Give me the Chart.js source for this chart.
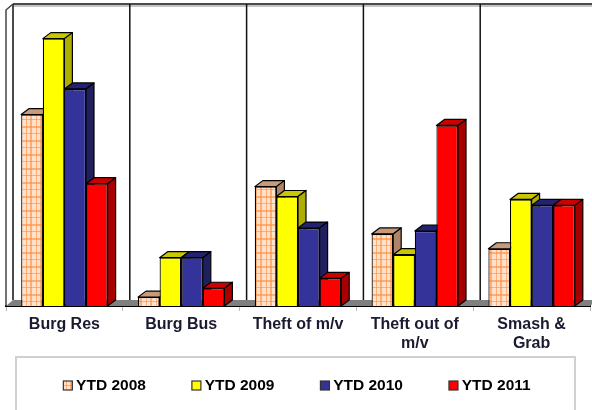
<!DOCTYPE html>
<html>
<head>
<meta charset="utf-8">
<script src="https://cdn.jsdelivr.net/npm/chart.js@4"></script>
<style>
html, body { margin: 0; padding: 0; background: #fff; }
#wrap { width: 592px; height: 410px; }
</style>
</head>
<body>
<div id="wrap"><canvas id="chart" width="592" height="410"></canvas></div>
<script>
var categories = ["Burg Res", "Burg Bus", "Theft of m/v", ["Theft out of", "m/v"], ["Smash &", "Grab"]];
var ytd2008 = [194, 9, 121, 73, 58];
var ytd2009 = [271, 49, 111, 52, 108];
var ytd2010 = [220, 49, 79, 76, 102];
var ytd2011 = [124, 18, 28, 183, 102];

var seriesNames = ["YTD 2008", "YTD 2009", "YTD 2010", "YTD 2011"];
var seriesValues = [ytd2008, ytd2009, ytd2010, ytd2011];

var wallX = 7, depthX = 8, depthY = 6;

// plaid fill for the 2008 bars
function plaid() {
    var c = document.createElement('canvas');
    c.width = 10; c.height = 14;
    var g = c.getContext('2d');
    g.fillStyle = '#ffe2cc';
    g.fillRect(0, 0, 10, 14);
    g.fillStyle = 'rgba(255,140,60,0.6)';
    g.fillRect(0, 0, 2, 14);
    g.fillRect(6, 0, 1, 14);
    g.fillRect(0, 0, 10, 2);
    g.fillRect(0, 7, 10, 1);
    return g.createPattern(c, 'repeat');
}

var fills = [plaid(), '#ffff00', '#333399', '#ff0000'];
var topColors = ['#c89a7c', '#c8c800', '#222270', '#cc0000'];
var sideColors = ['#b08468', '#aeae00', '#20205f', '#a80000'];

function face(ctx, pts, fill) {
    ctx.beginPath();
    ctx.moveTo(pts[0][0], pts[0][1]);
    for (var i = 1; i < pts.length; i++) ctx.lineTo(pts[i][0], pts[i][1]);
    ctx.closePath();
    ctx.fillStyle = fill;
    ctx.fill();
    ctx.stroke();
}

var box3d = {
    id: 'box3d',
    afterLayout: function (chart) {
        // legend row sits in the framed box, its padding would push it too low
        chart.legend.top = 340;
        chart.legend.left = -3;
        chart.legend.right = 589;
    },
    beforeDraw: function (chart) {
        var ctx = chart.ctx;
        ctx.save();
        ctx.strokeStyle = '#d0d0d0';
        ctx.lineWidth = 2;
        ctx.strokeRect(16, 357, 559, 60);
        ctx.restore();
    },
    beforeDatasetsDraw: function (chart) {
        var ctx = chart.ctx, a = chart.chartArea, x = chart.scales.x;
        var step = x.getPixelForValue(1) - x.getPixelForValue(0);
        var first = x.getPixelForValue(0) - step / 2;
        ctx.save();
        // floor
        ctx.fillStyle = '#808080';
        ctx.beginPath();
        ctx.moveTo(a.left, a.bottom);
        ctx.lineTo(a.left + wallX, a.bottom - depthY);
        ctx.lineTo(a.right + wallX, a.bottom - depthY);
        ctx.lineTo(a.right, a.bottom);
        ctx.closePath();
        ctx.fill();
        // back wall
        ctx.strokeStyle = '#c4c4c4';
        ctx.lineWidth = 2;
        ctx.beginPath();
        ctx.moveTo(a.left + wallX, a.top - depthY + 2);
        ctx.lineTo(chart.width, a.top - depthY + 2);
        ctx.stroke();
        ctx.strokeStyle = '#111';
        ctx.lineWidth = 1.5;
        ctx.beginPath();
        ctx.moveTo(a.left + wallX, a.top - depthY);
        ctx.lineTo(chart.width, a.top - depthY);
        for (var i = 0; i < categories.length; i++) {
            var px = first + step * i + wallX;
            ctx.moveTo(px, a.top - depthY);
            ctx.lineTo(px, a.bottom - depthY);
        }
        ctx.stroke();
        // side wall
        ctx.strokeStyle = '#444';
        ctx.beginPath();
        ctx.moveTo(a.left, a.bottom);
        ctx.lineTo(a.left, a.top);
        ctx.lineTo(a.left + wallX, a.top - depthY);
        ctx.stroke();
        // top and side faces, left to right, all behind the front faces
        ctx.strokeStyle = '#000';
        ctx.lineWidth = 1.2;
        ctx.lineJoin = 'round';
        categories.forEach(function (c, n) {
            seriesNames.forEach(function (s, d) {
                var bar = chart.getDatasetMeta(d).data[n];
                var l = bar.x - bar.width / 2, r = bar.x + bar.width / 2, t = bar.y, b = bar.base;
                face(ctx, [[l, t], [l + depthX, t - depthY], [r + depthX, t - depthY], [r, t]], topColors[d]);
                face(ctx, [[r, t], [r + depthX, t - depthY], [r + depthX, b - depthY], [r, b]], sideColors[d]);
            });
        });
        ctx.restore();
    },
    afterDraw: function (chart) {
        // legend keys sit closer to the text than the library's gap allows
        var ctx = chart.ctx;
        ctx.save();
        ctx.strokeStyle = '#333';
        ctx.lineWidth = 1.2;
        chart.legend.legendHitBoxes.forEach(function (hit, i) {
            ctx.fillStyle = fills[i];
            ctx.fillRect(hit.left + 8, 381, 9, 9);
            ctx.strokeRect(hit.left + 8, 381, 9, 9);
        });
        ctx.restore();
    }
};

var datasets = seriesNames.map(function (name, i) {
    return {
        label: name,
        data: seriesValues[i],
        backgroundColor: fills[i],
        borderColor: '#000',
        borderWidth: 1.2,
        categoryPercentage: 0.74,
        barPercentage: 1
    };
});

new Chart(document.getElementById('chart'), {
    type: 'bar',
    data: { labels: categories, datasets: datasets },
    plugins: [box3d],
    options: {
        responsive: false,
        animation: false,
        layout: { padding: { left: 6, right: 2, top: 10, bottom: 0 } },
        plugins: {
            tooltip: { enabled: false },
            legend: {
                position: 'bottom',
                maxHeight: 58,
                labels: {
                    boxWidth: 13,
                    boxHeight: 9,
                    padding: 38,
                    color: '#1a1a30',
                    font: { family: 'Liberation Sans', size: 15.5, weight: 'bold' },
                    generateLabels: function (chart) {
                        return seriesNames.map(function (name, i) {
                            return { text: name, fillStyle: 'rgba(0,0,0,0)', strokeStyle: 'rgba(0,0,0,0)', lineWidth: 0, datasetIndex: i };
                        });
                    }
                }
            }
        },
        scales: {
            x: {
                border: { color: '#000', width: 2 },
                grid: { drawOnChartArea: false, color: '#b8b8b8', tickLength: 5 },
                ticks: {
                    color: '#1a1a30',
                    autoSkip: false,
                    maxRotation: 0,
                    padding: 4,
                    font: { family: 'Liberation Sans', size: 16, weight: 'bold', lineHeight: 1.2 }
                },
                afterFit: function (s) { s.height = 46; }
            },
            y: { display: false, min: 0, max: 300 }
        }
    }
});
</script>
</body>
</html>
